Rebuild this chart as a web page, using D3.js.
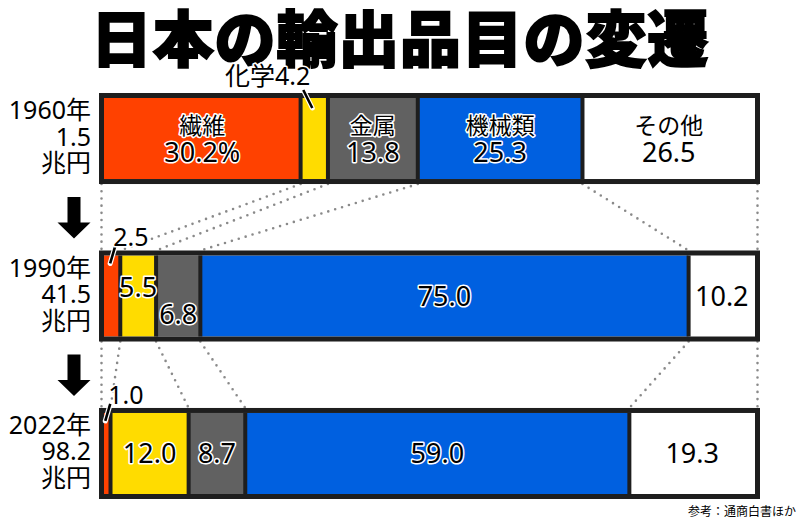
<!DOCTYPE html>
<html><head><meta charset="utf-8">
<script src="https://cdn.jsdelivr.net/npm/d3@7"></script>
<style>html,body{margin:0;padding:0;background:#fff;}svg{display:block;font-family:"Noto Sans","Noto Sans CJK JP",sans-serif;}</style>
</head><body>
<svg id="chart" width="800" height="520"></svg>
<script>
// ---- data ----
const title = "日本の輸出品目の変遷";
const years = ["1960年", "1990年", "2022年"];
const totals = ["1.5", "41.5", "98.2"];
const unit = "兆円";
const categories = ["繊維", "化学", "金属", "機械類", "その他"];
const share1960 = [30.2, 4.2, 13.8, 25.3, 26.5];
const share1990 = [2.5, 5.5, 6.8, 75.0, 10.2];
const share2022 = [1.0, 12.0, 8.7, 59.0, 19.3];
const source = "参考：通商白書ほか";

// ---- style ----
const colors = ["#ff4100", "#ffdc00", "#616161", "#0060e0", "#ffffff"];
const ink = "#1e1e1e";

const svg = d3.select("#chart");
const shares = [share1960, share1990, share2022];
const fmt = d3.format(".1f");

const x = d3.scaleLinear().domain([0, 100]).range([104, 755]);
const y = d3.scaleBand().domain(years).range([93, 499]).paddingInner(0.422).paddingOuter(0);
const bw = y.bandwidth();
const B = 5; // outer border

// title
svg.append("text").attr("x", 400).attr("y", 35)
  .attr("text-anchor", "middle").attr("dominant-baseline", "central")
  .attr("font-family", "'Noto Sans CJK JP', sans-serif")
  .attr("font-size", 61).attr("font-weight", 900)
  .attr("fill", "#000").attr("stroke", "#000").attr("stroke-width", 1.8)
  .attr("letter-spacing", 0.8)
  .text(title);

// cumulative boundaries
const cums = shares.map(s => { let c = 0; const out = [0]; s.forEach(v => { c += v; out.push(Math.min(100, c)); }); return out; });
const bx = (k, j) => j === 0 ? x(0) - B / 2 : (j === cums[k].length - 1 ? x(100) + B / 2 : x(cums[k][j]));

// dotted connectors
const conn = svg.append("g");
for (let k = 0; k < years.length - 1; k++) {
  const yb = y(years[k]) + bw, yt = y(years[k + 1]);
  cums[k].forEach((c, j) => {
    conn.append("line")
      .attr("x1", bx(k, j)).attr("y1", yb)
      .attr("x2", bx(k + 1, j)).attr("y2", yt)
      .attr("stroke", "#8a8a8a").attr("stroke-width", 2.6)
      .attr("stroke-linecap", "round").attr("stroke-dasharray", "0 7.2");
  });
}

// arrows
for (let k = 0; k < years.length - 1; k++) {
  const y0 = y(years[k]) + bw + 13, y1 = y(years[k + 1]) - 12, cx = 74;
  const hh = 16, sw = 6.5, hw = 16.5;
  svg.append("path")
    .attr("d", `M${cx - sw},${y0} L${cx + sw},${y0} L${cx + sw},${y1 - hh} L${cx + hw},${y1 - hh} L${cx},${y1} L${cx - hw},${y1 - hh} L${cx - sw},${y1 - hh} Z`)
    .attr("fill", "#000");
}

// bars
years.forEach((yr, k) => {
  const g = svg.append("g");
  const top = y(yr), bot = top + bw, cy = top + bw / 2;
  const s = shares[k], c = cums[k];
  s.forEach((v, i) => {
    g.append("rect").attr("x", x(c[i])).attr("y", top + B)
      .attr("width", x(c[i + 1]) - x(c[i])).attr("height", bw - 2 * B)
      .attr("fill", colors[i]);
  });
  for (let j = 1; j < c.length - 1; j++) {
    g.append("line").attr("x1", x(c[j])).attr("x2", x(c[j]))
      .attr("y1", top + B).attr("y2", bot - B)
      .attr("stroke", ink).attr("stroke-width", 4);
  }
  g.append("rect").attr("x", x(0) - B / 2).attr("y", top + B / 2)
    .attr("width", x(100) - x(0) + B).attr("height", bw - B)
    .attr("fill", "none").attr("stroke", ink).attr("stroke-width", B);

  // row labels
  [yr, totals[k], unit].forEach((t, li) => {
    svg.append("text").attr("x", 91).attr("y", cy + 7 + (li - 1) * 26.5)
      .attr("text-anchor", "end").attr("font-size", 25).attr("fill", "#000").text(t);
  });

  const halo = (sel, i) => {
    if (i !== 4) sel.attr("stroke", "#fff").attr("stroke-width", 3).attr("stroke-linejoin", "round").attr("paint-order", "stroke");
    return sel;
  };
  s.forEach((v, i) => {
    const mx = (x(c[i]) + x(c[i + 1])) / 2;
    const small = (k === 0 && i === 1) || (k > 0 && i === 0);
    if (small) {
      let tx, ty, anchor, lx1, ly1, lx2, ly2, txt;
      if (k === 0) {
        txt = categories[i] + fmt(v); anchor = "end"; tx = mx - 4; ty = top - 8;
        lx1 = mx - 11; ly1 = top - 3; lx2 = mx - 2; ly2 = top + 15;
      } else {
        txt = fmt(v); anchor = "start"; tx = mx + 1; ty = top - 4;
        lx1 = mx + 3; ly1 = top - 4; lx2 = mx - 2; ly2 = top + 13;
      }
      g.append("line").attr("x1", lx1).attr("y1", ly1).attr("x2", lx2).attr("y2", ly2)
        .attr("stroke", "#fff").attr("stroke-width", 5).attr("stroke-linecap", "round");
      g.append("line").attr("x1", lx1).attr("y1", ly1).attr("x2", lx2).attr("y2", ly2)
        .attr("stroke", "#000").attr("stroke-width", 2.6);
      halo(g.append("text").attr("x", tx).attr("y", ty).attr("text-anchor", anchor)
        .attr("font-size", 25).attr("fill", "#000"), 0).text(txt);
      return;
    }
    if (k === 0) {
      halo(g.append("text").attr("x", mx).attr("y", cy - 4.5).attr("text-anchor", "middle")
        .attr("font-size", 23).attr("fill", "#000"), i).text(categories[i]);
      halo(g.append("text").attr("x", mx).attr("y", cy + 23).attr("text-anchor", "middle")
        .attr("font-size", 27).attr("fill", "#000"), i).text(fmt(v) + (i === 0 ? "%" : ""));
    } else {
      let dy = 10;
      if (k === 1 && i === 1) dy = 1;
      if (k === 1 && i === 2) dy = 28;
      halo(g.append("text").attr("x", mx).attr("y", cy + dy).attr("text-anchor", "middle")
        .attr("font-size", 27).attr("fill", "#000"), i).text(fmt(v));
    }
  });
});

// source
svg.append("text").attr("x", 796).attr("y", 516).attr("text-anchor", "end")
  .attr("font-family", "'Noto Sans CJK JP', sans-serif")
  .attr("font-size", 12).attr("fill", "#000").text(source);
</script>
</body></html>
